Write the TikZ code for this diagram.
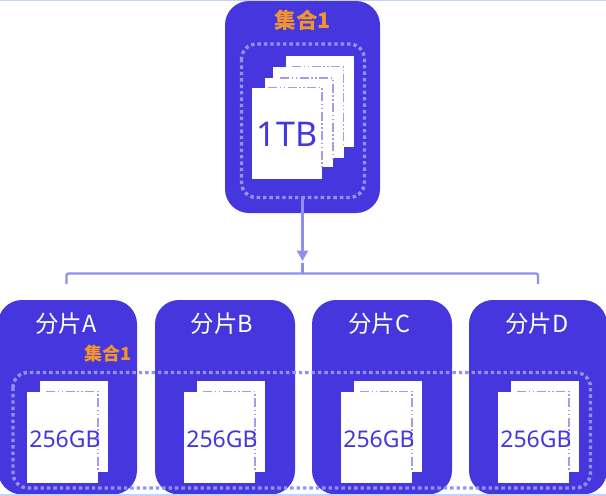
\documentclass[tikz,border=0pt]{standalone}
\usepackage{fontspec}
\setmainfont{Noto Sans}
\newfontfamily\cjk{Noto Sans CJK SC}
\usetikzlibrary{arrows.meta}
\definecolor{boxblue}{HTML}{4636DE}
\definecolor{lav}{HTML}{8F8FF2}
\definecolor{lavdot}{HTML}{9292F2}
\definecolor{dashc}{HTML}{A49BEA}
\definecolor{orangec}{HTML}{F2952F}
\definecolor{edgec}{HTML}{C2D2FC}
\tikzset{
  panel/.style={fill=boxblue,draw=none,rounded corners=24pt},
  dotring/.style={draw=lavdot,line width=3.4pt,dash pattern=on 3.4pt off 3pt,rounded corners=15pt},
  page/.style={fill=white,draw=none},
  pageline/.style={draw=dashc,line width=1.1pt,dash pattern=on 9pt off 2.5pt on 1.5pt off 2.5pt on 1.5pt off 2.5pt},
  link/.style={draw=lav,line width=2.3pt},
  title/.style={text=white,font=\cjk\fontsize{23.5}{26}\selectfont,inner sep=0pt},
  orangelabel/.style={text=orangec,inner sep=0pt},
  size/.style={text=boxblue,inner sep=0pt}
}
\newcommand{\shardgroup}[2]{%
  \begin{scope}[xshift=#1pt]
    \path[page] (40,381) rectangle (108,472);
    \path[page] (27,391.5) rectangle (98,483);
    \draw[pageline] (46,391.5) -- (98,391.5) -- (98,472);
    \node[size,font=\fontsize{23}{26}\selectfont] (#2) at (65,439) {256GB};
  \end{scope}}
\begin{document}
\begin{tikzpicture}[x=1pt,y=-1pt]
\useasboundingbox (0,0) rectangle (606,496);
\fill[white] (0,0) rectangle (606,496);
\draw[edgec,line width=1.2pt] (0,0.6) -- (606,0.6);
% top panel
\path[panel] (225,1) rectangle (380,213);
\coordinate (topin) at (302.5,197);
\draw[dotring] (241.5,44) rectangle (364.5,197.5);
\node[orangelabel,font=\cjk\bfseries\fontsize{21.5}{24}\selectfont] (settop) at (303,20) {集合1};
\path[page] (286,56) rectangle (354,147);
\path[page] (273,67) rectangle (344,158);
\draw[pageline] (292,66.5) -- (343.5,66.5) -- (343.5,147);
\path[page] (265,78) rectangle (333,167);
\draw[pageline] (280,78) -- (333,78) -- (333,158);
\path[page] (252,88) rectangle (322,179);
\draw[pageline] (268,87.5) -- (322,87.5) -- (322,167);
\node[size,font=\fontsize{34}{36}\selectfont] (onetb) at (287,134) {1TB};
% lower panels
\path[panel] (-2,300) rectangle (137,494.5);
\path[panel] (155,300) rectangle (295,494.5);
\path[panel] (312,300) rectangle (452,494.5);
\path[panel] (469,300) rectangle (607,494.5);
\node[title] (sa) at (66,324) {分片A};
\node[title] (sb) at (222,324) {分片B};
\node[title] (sc) at (379,324) {分片C};
\node[title] (sd) at (537,324) {分片D};
\draw[dotring] (13,372.5) rectangle (590.5,488);
\node[orangelabel,font=\cjk\bfseries\fontsize{18}{22}\selectfont] (setlow) at (107.5,354) {集合1};
\shardgroup{0}{ga}
\shardgroup{157}{gb}
\shardgroup{314}{gc}
\shardgroup{471}{gd}
\draw[edgec,line width=2pt] (0,495) -- (606,495);
% connectors
\coordinate (tip) at (302.5,261);
\coordinate (stub) at (302.5,263);
\coordinate (bar) at (302.5,273.5);
\coordinate (bl) at (66.5,284);
\coordinate (br) at (538,284);
\draw[link,-{Triangle[length=10.5pt,width=11pt]}] (topin) -- (tip);
\draw[link] (stub) -- (bar);
\draw[link,rounded corners=2pt] (bl) |- (bar) -| (br);
\end{tikzpicture}
\end{document}
